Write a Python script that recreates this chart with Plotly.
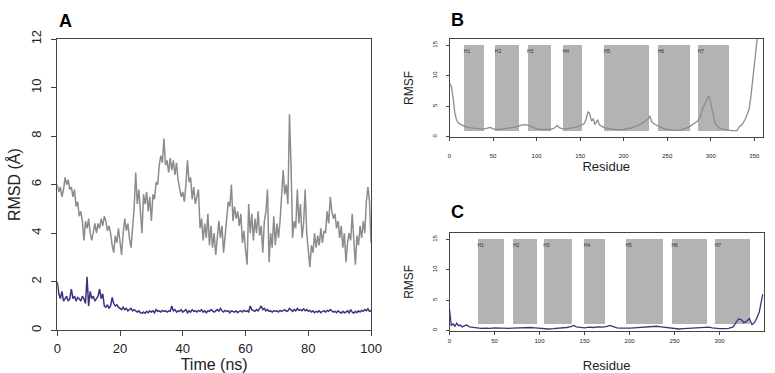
import plotly.graph_objects as go

# ---------------- data ----------------
# Panel A: RMSD over time (0.5 ns sampling)
rmsd_grey = [
    6.0, 5.7, 5.9, 5.5, 5.8, 6.3, 6.0, 6.2, 5.8, 5.9,
    5.5, 5.8, 5.1, 5.3, 4.7, 4.9, 4.5, 3.7, 4.5, 4.2,
    4.6, 4.0, 3.7, 4.1, 4.4, 4.0, 4.4, 4.2, 4.6, 4.3,
    4.7, 4.5, 4.1, 4.3, 4.0, 3.5, 3.2, 3.9, 3.6, 4.2,
    3.7, 3.1, 4.0, 4.6, 4.1, 4.4, 3.8, 3.4, 4.2, 5.0,
    6.5, 5.2, 5.8, 5.0, 4.0, 5.6, 5.2, 5.7, 4.9, 5.5,
    4.5, 5.6, 5.4, 6.1, 6.0, 6.8, 7.2, 6.9, 7.9, 6.8,
    7.0, 6.5, 7.1, 6.6, 7.0, 6.4, 6.9, 6.2, 5.8, 5.5,
    5.7, 5.3, 6.0, 7.0, 6.1, 6.3, 5.4, 5.9, 5.2, 5.5,
    5.8, 4.2, 4.6, 3.7, 4.4, 3.8, 4.8, 3.5, 4.3, 3.4,
    4.0, 3.1, 4.0, 4.5, 3.8, 4.3, 3.2, 4.0, 4.6, 5.3,
    5.1, 6.0, 4.5, 5.1, 4.6, 4.9, 4.3, 4.8, 3.6, 4.1,
    3.3, 2.7, 5.2, 4.0, 4.8, 3.7, 4.6, 4.0, 4.9, 3.9,
    4.3, 3.2, 4.5, 4.9, 5.8, 2.8, 4.0, 3.4, 4.7, 3.5,
    4.4, 3.8, 4.5, 5.4, 6.6, 5.6, 6.0, 5.2, 8.9, 6.8,
    3.8, 4.5, 4.2, 5.8, 4.4, 5.2, 3.8, 4.4, 5.8, 4.0,
    3.1, 2.6, 3.5, 3.2, 4.0, 3.4, 3.9, 3.5, 4.2, 3.6,
    4.1, 4.0, 4.9, 4.4, 5.5, 4.9, 4.6, 4.8, 4.2, 4.5,
    3.8, 4.3, 3.4, 4.0, 2.8, 3.6, 4.0, 3.7, 4.8, 3.8,
    2.7, 3.9, 3.5, 4.3, 3.8, 4.5, 4.0, 5.3, 5.9, 5.3,
    3.6,
]
rmsd_purple = [
    2.0, 1.5, 1.3, 1.6, 1.2, 1.3, 1.4, 1.2, 1.3, 1.7,
    1.3, 1.4, 1.2, 1.35, 1.3, 1.2, 1.4, 1.3, 1.1, 2.2,
    1.0, 1.6, 1.3, 1.4, 1.2, 1.3, 1.4, 1.7, 1.3, 1.5,
    1.0, 0.95, 1.05, 0.9, 1.0, 1.35, 1.1, 1.0, 1.05, 0.95,
    0.9, 0.85, 0.95, 0.85, 0.9, 0.8, 0.85, 0.9, 0.8, 0.85,
    0.8, 0.75, 0.8, 0.72, 0.7, 0.75, 0.7, 0.78, 0.72, 0.8,
    0.75, 0.8, 0.72, 0.85, 0.78, 0.8, 0.75, 0.82, 0.78, 0.8,
    0.75, 0.8, 0.78, 1.0, 0.8, 0.85, 0.75, 0.8, 0.78, 0.85,
    0.75, 0.8, 0.85, 0.72, 0.8, 0.75, 0.85, 0.78, 0.8, 0.75,
    0.82, 0.78, 0.85, 0.75, 0.8, 0.72, 0.8, 0.78, 0.85, 0.8,
    0.75, 0.8, 0.85, 0.78, 0.9, 0.8, 0.75, 0.82, 0.78, 0.8,
    0.72, 0.8, 0.78, 0.75, 0.8, 0.72, 0.78, 0.8, 0.75, 0.82,
    0.78, 0.8, 0.75, 1.0, 0.85, 0.8, 0.78, 0.85, 0.8, 0.9,
    1.0, 0.85, 0.9, 0.8, 0.85, 0.78, 0.8, 0.75, 0.8, 0.78,
    0.8, 0.75, 0.82, 0.78, 0.8, 0.85, 0.78, 0.8, 0.9, 0.82,
    0.78, 0.85, 0.8, 0.9, 0.82, 0.85, 0.8, 0.88, 0.8, 0.85,
    0.78, 0.82, 0.75, 0.8, 0.72, 0.78, 0.75, 0.8, 0.72, 0.78,
    0.8, 0.75, 0.82, 0.78, 0.85, 0.8, 0.75, 0.78, 0.72, 0.8,
    0.75, 0.7, 0.78, 0.72, 0.75, 0.8, 0.72, 0.85, 0.75, 0.7,
    0.78, 0.72, 0.8, 0.75, 0.82, 0.78, 0.85, 0.8, 0.88, 0.78,
    0.8,
]
time_ns = [i * 0.5 for i in range(len(rmsd_grey))]

# Panel B: RMSF per residue (grey)
res_b = [0, 2, 4, 6, 8, 10, 13, 16, 20, 25, 30, 35, 40, 45, 47, 50, 55, 60, 65, 70,
         75, 80, 85, 90, 95, 100, 105, 110, 115, 120, 122, 124, 126, 130, 135, 140,
         145, 150, 155, 157, 159, 161, 163, 165, 167, 170, 172, 175, 180, 185, 190,
         195, 200, 205, 210, 215, 220, 225, 228, 230, 232, 235, 240, 245, 250, 255,
         260, 265, 270, 275, 280, 285, 288, 291, 294, 297, 299, 302, 305, 310, 315,
         320, 325, 330, 333, 336, 340, 344, 346, 348, 350, 352, 354]
rmsf_b = [8.7, 8.3, 6.5, 4.0, 2.8, 2.3, 2.0, 1.8, 1.6, 1.45, 1.35, 1.3, 1.3, 1.4, 1.55,
          1.3, 1.2, 1.25, 1.35, 1.45, 1.6, 1.8, 2.0, 1.9, 1.6, 1.3, 1.2, 1.15, 1.2, 1.4,
          1.6, 1.85, 1.5, 1.3, 1.3, 1.4, 1.6, 1.8, 2.2, 3.0, 4.1, 3.8, 2.6, 2.9, 2.0,
          2.8, 2.0, 1.7, 1.4, 1.3, 1.2, 1.15, 1.2, 1.3, 1.5, 1.8, 2.1, 2.6, 2.9, 3.4,
          2.5, 2.1, 1.7, 1.4, 1.2, 1.1, 1.05, 1.1, 1.3, 1.6, 2.1, 2.6, 3.3, 4.8, 5.6,
          6.7, 6.2, 4.2, 2.2, 1.4, 1.2, 1.1, 1.0, 1.0, 1.7, 2.0, 3.0, 4.5, 6.5, 9.0,
          12.0, 14.5, 17.0]

# Panel C: RMSF per residue (purple)
res_c = [0, 1, 2, 4, 6, 8, 10, 12, 14, 17, 19, 22, 26, 30, 35, 40, 45, 50, 55, 60, 65,
         70, 75, 80, 85, 90, 95, 100, 105, 110, 115, 120, 125, 130, 135, 138, 141, 145,
         150, 155, 160, 165, 170, 175, 178, 182, 186, 190, 195, 200, 205, 210, 215,
         220, 225, 230, 235, 240, 245, 250, 255, 260, 265, 270, 275, 280, 285, 288,
         292, 296, 300, 305, 310, 315, 318, 321, 324, 327, 330, 333, 336, 338, 340,
         342, 344, 346, 348]
rmsf_c = [3.5, 1.5, 0.8, 1.1, 0.7, 1.2, 0.8, 0.9, 0.6, 0.8, 0.9, 0.6, 0.5, 0.4, 0.35,
          0.4, 0.35, 0.45, 0.4, 0.3, 0.35, 0.4, 0.45, 0.5, 0.55, 0.5, 0.45, 0.35, 0.3,
          0.25, 0.3, 0.35, 0.4, 0.5, 0.65, 0.85, 0.6, 0.5, 0.45, 0.55, 0.5, 0.6, 0.55,
          0.7, 0.85, 0.65, 0.45, 0.4, 0.35, 0.4, 0.45, 0.5, 0.55, 0.6, 0.65, 0.7, 0.6,
          0.5, 0.35, 0.3, 0.25, 0.3, 0.35, 0.4, 0.45, 0.5, 0.6, 0.55, 0.45, 0.35, 0.3,
          0.3, 0.35, 0.6, 1.2, 1.9, 1.8, 1.3, 1.5, 2.0, 1.0, 1.2, 1.6, 2.2, 3.0, 4.5, 6.0]

# Helix annotations
helix_labels = ["H1", "H2", "H3", "H4", "H5", "H6", "H7"]
helix_start_b = [16.5, 52, 89, 130, 177, 239, 285]
helix_end_b = [39.5, 79, 116, 152, 228, 276, 320]
helix_start_c = [31, 70.5, 104, 149, 195.5, 246.5, 294.5]
helix_end_c = [60.5, 96.5, 135.5, 172, 237, 285.5, 333.5]
helix_low, helix_high = 1, 15

# ---------------- styling ----------------
GREY = "#8c8c8c"
PURPLE = "#3b3380"
BAR = "#b3b3b3"
FONT = "Liberation Sans, Arial, sans-serif"
W, H = 775, 373

def px(x):
    return x / W

def py(y):
    return 1 - y / H

fig = go.Figure()

fig.add_trace(go.Scatter(x=time_ns, y=rmsd_grey, mode="lines",
                         line=dict(color=GREY, width=1.5), xaxis="x", yaxis="y",
                         showlegend=False))
fig.add_trace(go.Scatter(x=time_ns, y=rmsd_purple, mode="lines",
                         line=dict(color=PURPLE, width=1.5), xaxis="x", yaxis="y",
                         showlegend=False))

for (starts, ends, xa, ya) in [(helix_start_b, helix_end_b, "x2", "y2"),
                               (helix_start_c, helix_end_c, "x3", "y3")]:
    centers = [(s + e) / 2 for s, e in zip(starts, ends)]
    widths = [e - s for s, e in zip(starts, ends)]
    fig.add_trace(go.Bar(x=centers, y=[helix_high - helix_low] * len(starts),
                         base=[helix_low] * len(starts), width=widths,
                         marker=dict(color=BAR, line=dict(width=0)),
                         xaxis=xa, yaxis=ya, showlegend=False, hoverinfo="skip"))
    fig.add_trace(go.Scatter(x=starts, y=[14.0] * len(starts), text=helix_labels,
                             mode="text", textposition="middle right",
                             textfont=dict(size=5, color="#333333", family=FONT),
                             xaxis=xa, yaxis=ya, showlegend=False))

fig.add_trace(go.Scatter(x=res_b, y=rmsf_b, mode="lines",
                         line=dict(color=GREY, width=1.3), xaxis="x2", yaxis="y2",
                         showlegend=False))
fig.add_trace(go.Scatter(x=res_c, y=rmsf_c, mode="lines",
                         line=dict(color=PURPLE, width=1.3), xaxis="x3", yaxis="y3",
                         showlegend=False))

axis_common = dict(showline=True, mirror=True, linecolor="#444444", linewidth=1,
                   ticks="outside", tickcolor="#444444", showgrid=False,
                   zeroline=False, color="#222222")

fig.update_layout(
    width=W, height=H,
    margin=dict(l=0, r=0, t=0, b=0),
    paper_bgcolor="white", plot_bgcolor="white",
    font=dict(family=FONT, color="#222222"),
    bargap=0,
    xaxis=dict(domain=[px(54.3), px(374.3)], range=[0, 100], anchor="y",
               tickvals=[0, 20, 40, 60, 80, 100], ticklen=5,
               tickfont=dict(size=13), ticklabelstandoff=1,
               title=dict(text="Time (ns)", font=dict(size=16), standoff=4),
               **axis_common),
    yaxis=dict(domain=[py(331), py(31)], range=[0, 12], anchor="x",
               tickvals=[0, 2, 4, 6, 8, 10, 12], ticklen=5, tickangle=-90,
               tickfont=dict(size=13), ticklabelstandoff=5,
               title=dict(text="RMSD (Å)", font=dict(size=16), standoff=4),
               **axis_common),
    xaxis2=dict(domain=[px(454.3), px(774)], range=[0, 360], anchor="y2",
                tickvals=[0, 50, 100, 150, 200, 250, 300, 350], ticklen=3,
                tickfont=dict(size=6), ticklabelstandoff=10,
                title=dict(text="Residue", font=dict(size=13), standoff=0),
                **axis_common),
    yaxis2=dict(domain=[py(131.7), py(31)], range=[0, 16], anchor="x2",
                tickvals=[0, 5, 10, 15], ticklen=3, tickangle=-90,
                tickfont=dict(size=6), ticklabelstandoff=6,
                title=dict(text="RMSF", font=dict(size=12), standoff=15),
                **axis_common),
    xaxis3=dict(domain=[px(454.3), px(774.7)], range=[0, 349], anchor="y3",
                tickvals=[0, 50, 100, 150, 200, 250, 300], ticklen=3,
                tickfont=dict(size=6), ticklabelstandoff=1,
                title=dict(text="Residue", font=dict(size=13), standoff=19),
                **axis_common),
    yaxis3=dict(domain=[py(331.3), py(231)], range=[0, 16], anchor="x3",
                tickvals=[0, 5, 10, 15], ticklen=3, tickangle=-90,
                tickfont=dict(size=6), ticklabelstandoff=6,
                title=dict(text="RMSF", font=dict(size=12), standoff=15),
                **axis_common),
)

for letter, x, y in [("A", 63, 12), ("B", 462, 11), ("C", 462, 209)]:
    fig.add_annotation(text=f"<b>{letter}</b>", x=px(x), y=py(y), xref="paper",
                       yref="paper", showarrow=False, xanchor="center",
                       yanchor="middle", font=dict(size=18, color="black", family=FONT))

fig.write_html(
    "out.html",
    config={"displayModeBar": False},
    post_script="document.body.style.margin='0';document.body.style.overflow='hidden';",
)
